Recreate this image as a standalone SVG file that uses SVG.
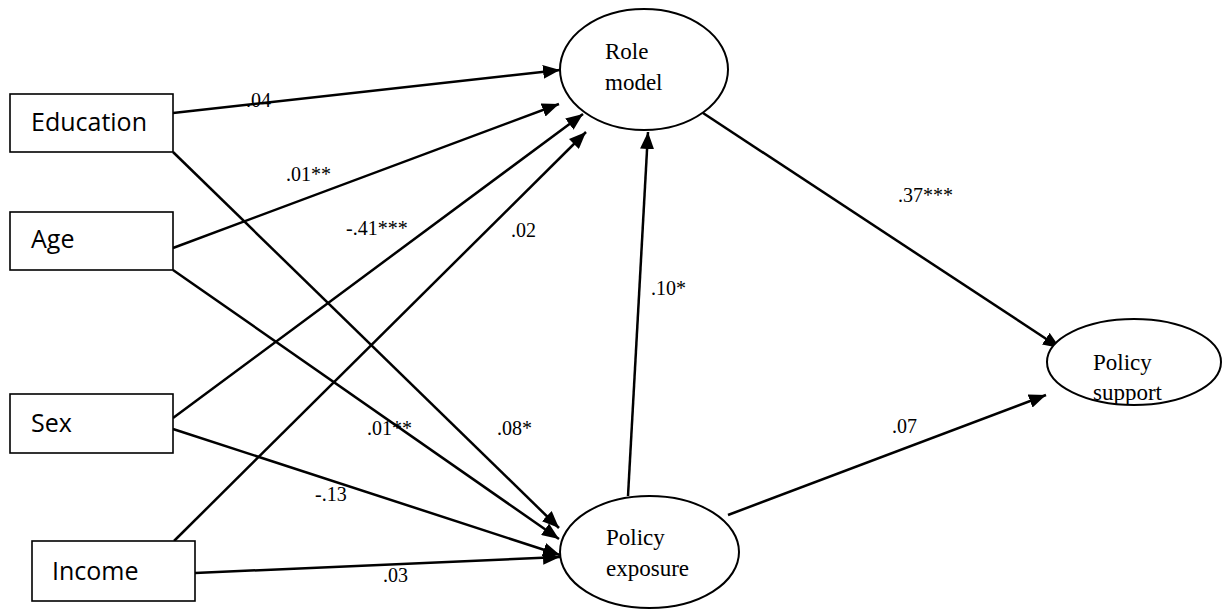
<svg xmlns="http://www.w3.org/2000/svg" width="1225" height="610" viewBox="0 0 1225 610">
<defs>
<style>
.box{fill:#fff;stroke:#000;stroke-width:1.6}
.ell{fill:#fff;stroke:#000;stroke-width:2}
.bt{font-family:"Open Sans","Liberation Sans",sans-serif;font-size:25px;fill:#000}
.et{font-family:"Liberation Serif","Times New Roman",serif;font-size:23px;fill:#000}
.lb{font-family:"Liberation Serif","Times New Roman",serif;font-size:20px;fill:#000}
.c{stroke:#000;stroke-width:2.5;fill:none;marker-end:url(#ah)}
</style>
<marker id="ah" markerUnits="userSpaceOnUse" markerWidth="18" markerHeight="14" refX="17" refY="7" orient="auto">
<path d="M0,0 L17,7 L0,14 z" fill="#000"/>
</marker>
</defs>
<rect width="1225" height="610" fill="#fff"/>
<g id="connectors">
<line class="c" x1="173" y1="113" x2="560" y2="70"/>
<line class="c" x1="173" y1="248" x2="559" y2="104"/>
<line class="c" x1="173" y1="418" x2="583" y2="114"/>
<line class="c" x1="174" y1="541" x2="586" y2="132"/>
<line class="c" x1="173" y1="152" x2="559" y2="528"/>
<line class="c" x1="173" y1="270" x2="559" y2="539"/>
<line class="c" x1="173" y1="429" x2="560" y2="555"/>
<line class="c" x1="195" y1="573" x2="560" y2="557"/>
<line class="c" x1="628" y1="496" x2="648" y2="132"/>
<line class="c" x1="703" y1="113" x2="1060" y2="348"/>
<line class="c" x1="728" y1="515" x2="1046" y2="395"/>
</g>
<g id="labels">
<text class="lb" x="246" y="107">.04</text>
<text class="lb" x="286" y="181">.01**</text>
<text class="lb" x="346" y="235">-.41***</text>
<text class="lb" x="511" y="237">.02</text>
<text class="lb" x="651" y="295">.10*</text>
<text class="lb" x="898" y="202">.37***</text>
<text class="lb" x="367" y="435">.01**</text>
<text class="lb" x="497" y="435">.08*</text>
<text class="lb" x="315" y="501">-.13</text>
<text class="lb" x="892" y="433">.07</text>
<text class="lb" x="383" y="582">.03</text>
</g>
<g id="education"><rect class="box" x="10" y="94" width="163" height="58"/><text class="bt" x="31" y="131">Education</text></g>
<g id="age"><rect class="box" x="10" y="212" width="163" height="58"/><text class="bt" x="31" y="248">Age</text></g>
<g id="sex"><rect class="box" x="10" y="394" width="163" height="59"/><text class="bt" x="31" y="432">Sex</text></g>
<g id="income"><rect class="box" x="32" y="541" width="163" height="60"/><text class="bt" x="52" y="580">Income</text></g>
<g id="role-model"><ellipse class="ell" cx="644" cy="69.5" rx="84" ry="60.5"/><text class="et" x="605" y="59">Role</text><text class="et" x="605" y="90">model</text></g>
<g id="policy-exposure"><ellipse class="ell" cx="649.5" cy="552" rx="89.5" ry="56"/><text class="et" x="606" y="545">Policy</text><text class="et" x="606" y="576">exposure</text></g>
<g id="policy-support"><ellipse class="ell" cx="1134" cy="362" rx="87" ry="43"/><text class="et" x="1093" y="370">Policy</text><text class="et" x="1093" y="400">support</text></g>
</svg>
